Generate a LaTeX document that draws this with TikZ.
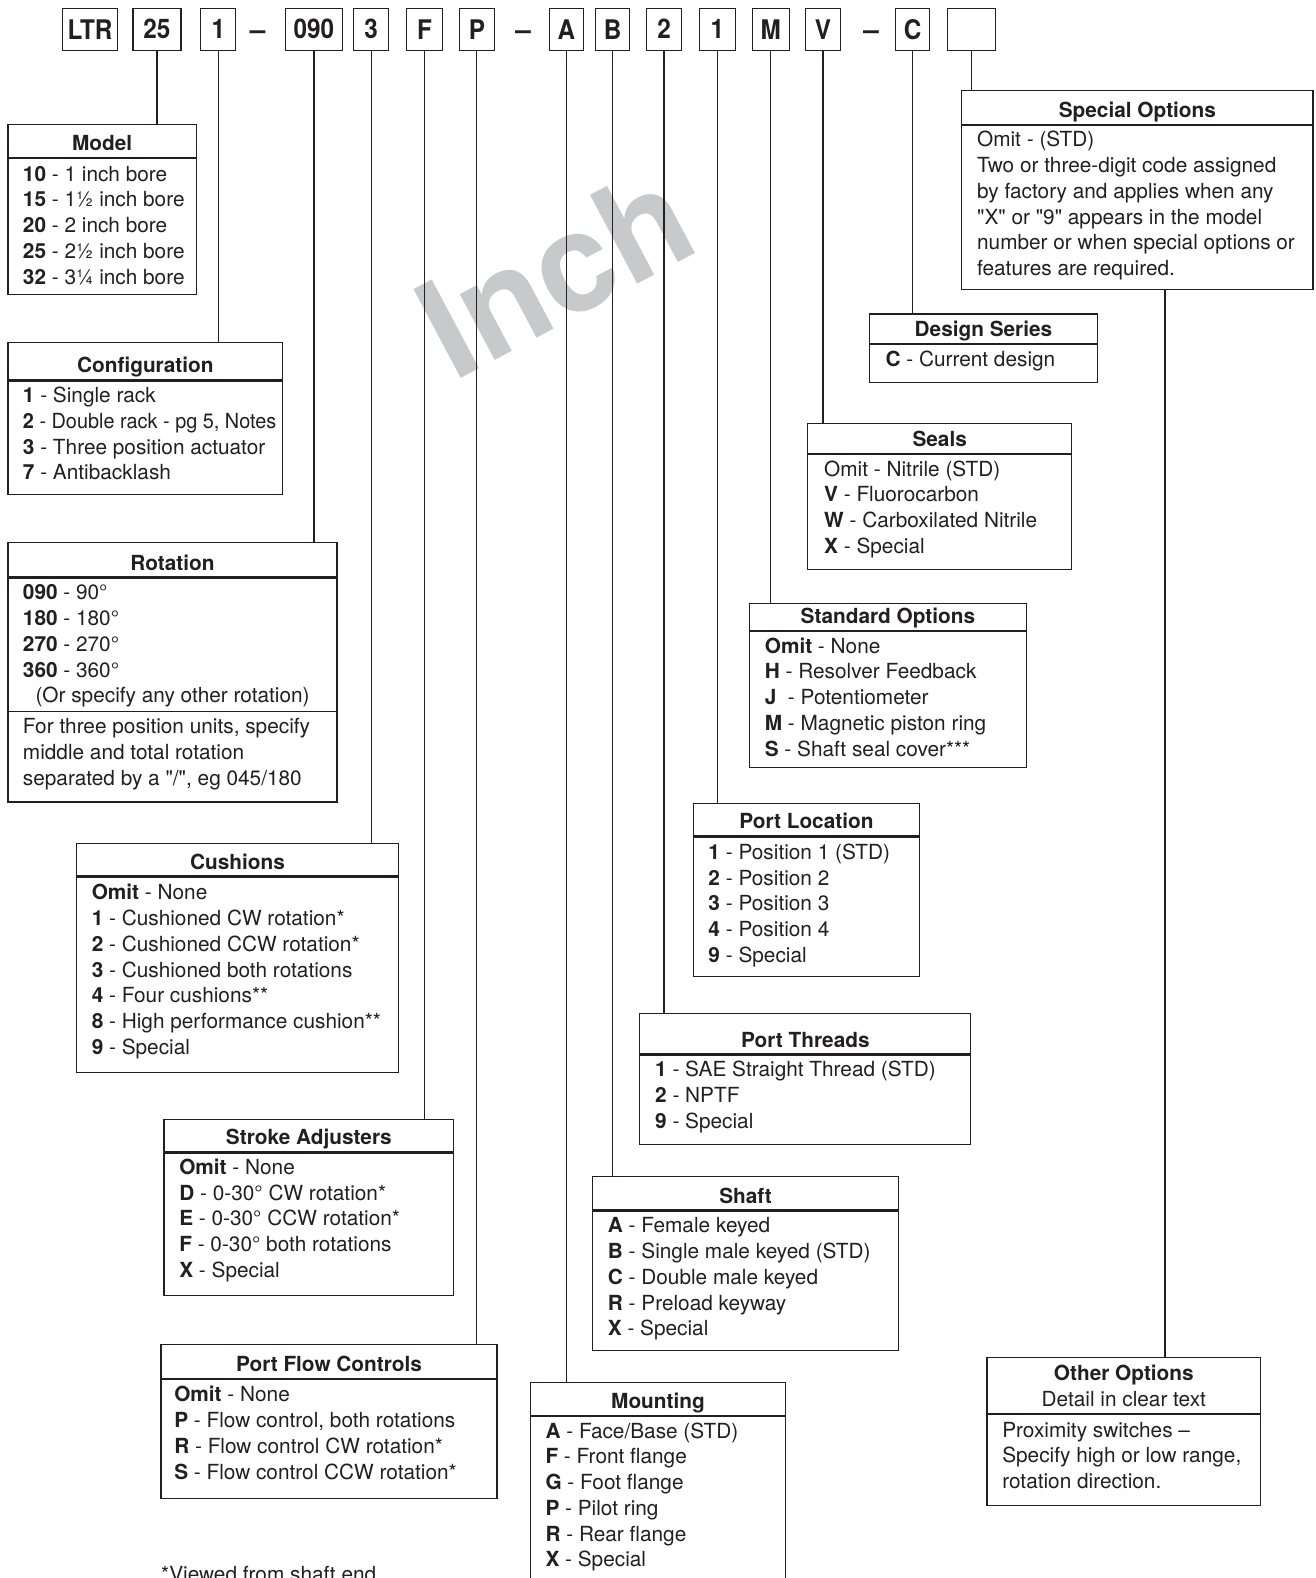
\documentclass[tikz,border=0pt]{standalone}
\usepackage{fontspec}
\usepackage{graphicx}
\setmainfont{TeX Gyre Heros}
\newfontfamily\codefont{TeX Gyre Heros}[FakeStretch=0.9]
\usetikzlibrary{fit}
\definecolor{ink}{HTML}{231F20}
\definecolor{wmgray}{HTML}{C8C9CB}
\tikzset{
  boxframe/.style={draw=ink, line width=1.2pt, inner sep=0pt, rectangle},
  hdrline/.style={draw=ink, line width=2.4pt},
  sepline/.style={draw=ink, line width=1.1pt},
  conn/.style={draw=ink, line width=1.2pt},
  txt/.style={anchor=base west, inner sep=0pt, text=ink, font=\fontsize{20.8}{24}\selectfont},
  ttl/.style={anchor=base, inner sep=0pt, text=ink, font=\fontsize{20.8}{24}\selectfont\bfseries},
  codebox/.style={draw=ink, line width=1.2pt, inner sep=0pt, minimum height=42pt, text=ink, font=\codefont\fontsize{27}{27}\selectfont\bfseries},
  codedash/.style={anchor=base, inner sep=0pt, text=ink, font=\fontsize{28}{28}\selectfont\bfseries},
  watermark/.style={inner sep=0pt, text=wmgray, font=\fontsize{138}{138}\selectfont\bfseries}
}
\newcommand\obox[7]{%
  \node[boxframe, fit={(#2,#3) (#4,#5)}] (#1) {};
  \draw[hdrline] (#1.west |- 0,#6) -- (#1.east |- 0,#6);
  \node[ttl] (#1-title) at ({(#2+#4)/2},{#6-7.5}) {#7};
}
\newcommand\blines[4]{%
  \foreach \tx [count=\i from 0] in {#4}{%
    \node[txt] (#1-\i) at (#2,{#3+\i*25.6}) {\tx};}%
}
\begin{document}
\begin{tikzpicture}[x=1.0061pt,y=-1.0064pt]
\useasboundingbox (0,0) rectangle (1308,1568);
\clip (0,0) rectangle (1308,1568);
\fill[white] (0,0) rectangle (1308,1568);

% watermark
\node[watermark, rotate=28] (inch) at (552,270) {Inch};

% code row
\node[codebox, minimum width=55pt] (cLTR) at (89.5,29) {LTR};
\node[codebox, minimum width=48pt] (c25) at (156,29) {25};
\node[codebox, minimum width=35pt] (c1) at (217,29) {1};
\node[codedash] (d1) at (256,39) {–};
\node[codebox, minimum width=57pt] (c090) at (312,29) {090};
\node[codebox, minimum width=35pt] (c3) at (369,29) {3};
\node[codebox, minimum width=36pt] (cF) at (422,29) {F};
\node[codebox, minimum width=35pt] (cP) at (474,29) {P};
\node[codedash] (d2) at (520,39) {–};
\node[codebox, minimum width=34pt] (cA) at (563,29) {A};
\node[codebox, minimum width=34pt] (cB) at (609,29) {B};
\node[codebox, minimum width=35pt] (c2) at (660,29) {2};
\node[codebox, minimum width=36pt] (c1b) at (713,29) {1};
\node[codebox, minimum width=37pt] (cM) at (766,29) {M};
\node[codebox, minimum width=35pt] (cV) at (818,29) {V};
\node[codedash] (d3) at (866,39) {–};
\node[codebox, minimum width=34pt] (cC) at (907,29) {C};
\node[codebox, minimum width=48pt] (cX) at (966,29) {};

% Model
\obox{model}{8}{124}{195}{293}{157}{Model}
\blines{model}{22.6}{180}{\textbf{10} - 1 inch bore, \textbf{15} - 1½ inch bore, \textbf{20} - 2 inch bore, \textbf{25} - 2½ inch bore, \textbf{32} - 3¼ inch bore}

% Configuration
\obox{config}{8}{340}{281}{491}{378}{Configuration}
\blines{config}{22.6}{400}{\textbf{1} - Single rack, {\scalebox{0.955}[1]{\textbf{2} - Double rack - pg 5, Notes}}, \textbf{3} - Three position actuator, \textbf{7} - Antibacklash}

% Rotation
\obox{rot}{8}{539}{335}{797}{574}{Rotation}
\blines{rot}{22.6}{596}{\textbf{090} - 90°, \textbf{180} - 180°, \textbf{270} - 270°, \textbf{360} - 360°}
\node[ttl, font=\fontsize{20.8}{24}\selectfont] (rot-or) at (171.5,698.5) {(Or specify any other rotation)};
\draw[sepline] (rot.west |- 0,707) -- (rot.east |- 0,707);
\blines{rotnote}{22.6}{729}{{For three position units, specify}, middle and total rotation, {separated by a \textquotedbl/\textquotedbl, eg 045/180}}

% Cushions
\obox{cush}{76}{838}{396}{1066}{871}{Cushions}
\blines{cush}{91}{894}{\textbf{Omit} - None, \textbf{1} - Cushioned CW rotation*, \textbf{2} - Cushioned CCW rotation*, \textbf{3} - Cushioned both rotations, \textbf{4} - Four cushions**, \textbf{8} - High performance cushion**, \textbf{9} - Special}

% Stroke Adjusters
\obox{stroke}{163}{1112}{451}{1287}{1145}{Stroke Adjusters}
\blines{stroke}{178}{1167}{\textbf{Omit} - None, \textbf{D} - 0-30° CW rotation*, \textbf{E} - 0-30° CCW rotation*, \textbf{F} - 0-30° both rotations, \textbf{X} - Special}

% Port Flow Controls
\obox{pfc}{160}{1336}{494}{1489}{1370}{Port Flow Controls}
\blines{pfc}{173}{1393}{\textbf{Omit} - None, {\textbf{P} - Flow control, both rotations}, \textbf{R} - Flow control CW rotation*, \textbf{S} - Flow control CCW rotation*}

% Mounting
\obox{mount}{527}{1374}{781}{1600}{1407}{Mounting}
\blines{mount}{542}{1429}{\textbf{A} - Face/Base (STD), \textbf{F} - Front flange, \textbf{G} - Foot flange, \textbf{P} - Pilot ring, \textbf{R} - Rear flange, \textbf{X} - Special}

% Shaft
\obox{shaft}{589}{1169}{893}{1342}{1203}{Shaft}
\blines{shaft}{604}{1225}{\textbf{A} - Female keyed, \textbf{B} - Single male keyed (STD), \textbf{C} - Double male keyed, \textbf{R} - Preload keyway, \textbf{X} - Special}

% Port Threads
\obox{pthr}{636}{1007}{965}{1137}{1048}{Port Threads}
\blines{pthr}{651}{1070}{\textbf{1} - SAE Straight Thread (STD), \textbf{2} - NPTF, \textbf{9} - Special}

% Port Location
\obox{ploc}{689}{798}{914}{970}{831}{Port Location}
\blines{ploc}{704}{854}{\textbf{1} - Position 1 (STD), \textbf{2} - Position 2, \textbf{3} - Position 3, \textbf{4} - Position 4, \textbf{9} - Special}

% Standard Options
\obox{stdo}{745}{600}{1020}{763}{627}{Standard Options}
\blines{stdo}{760}{649}{\textbf{Omit} - None, \textbf{H} - Resolver Feedback, \textbf{J}\ \ - Potentiometer, \textbf{M} - Magnetic piston ring, \textbf{S} - Shaft seal cover***}

% Seals
\obox{seals}{803}{421}{1065}{566}{451}{Seals}
\blines{seals}{819}{473}{Omit - Nitrile (STD), \textbf{V} - Fluorocarbon, \textbf{W} - Carboxilated Nitrile, \textbf{X} - Special}

% Design Series
\obox{design}{864}{312}{1091}{380}{342}{Design Series}
\blines{design}{880}{364}{\textbf{C} - Current design}

% Special Options
\obox{spec}{956}{90}{1305}{288}{124}{Special Options}
\blines{spec}{971}{146}{Omit - (STD), Two or three-digit code assigned, by factory and applies when any, \textquotedbl X\textquotedbl\ or \textquotedbl 9\textquotedbl\ appears in the model, number or when special options or, features are required.}

% Other Options
\node[boxframe, fit={(981,1349) (1253,1496)}] (other) {};
\draw[hdrline] (other.west |- 0,1405) -- (other.east |- 0,1405);
\node[ttl] (other-title) at (1117,1372) {Other Options};
\node[ttl, font=\fontsize{20.8}{24}\selectfont] (other-sub) at (1117,1397.5) {Detail in clear text};
\blines{other}{996}{1428}{Proximity switches –, {Specify high or low range,}, rotation direction.}

% footnote
\node[txt] (foot) at (160,1571) {*Viewed from shaft end};

% connectors
\draw[conn] (c25.south) -- (c25.south |- model.north);
\draw[conn] (c1.south) -- (c1.south |- config.north);
\draw[conn] (c090.south) -- (c090.south |- rot.north);
\draw[conn] (c3.south) -- (c3.south |- cush.north);
\draw[conn] (cF.south) -- (cF.south |- stroke.north);
\draw[conn] (cP.south) -- (cP.south |- pfc.north);
\draw[conn] (cA.south) -- (cA.south |- mount.north);
\draw[conn] (cB.south) -- (cB.south |- shaft.north);
\draw[conn] (c2.south) -- (c2.south |- pthr.north);
\draw[conn] (c1b.south) -- (c1b.south |- ploc.north);
\draw[conn] (cM.south) -- (cM.south |- stdo.north);
\draw[conn] (cV.south) -- (cV.south |- seals.north);
\draw[conn] (cC.south) -- (cC.south |- design.north);
\draw[conn] (cX.south) -- (cX.south |- spec.north);
\draw[conn] (spec.south -| 1158,0) -- (other.north -| 1158,0);
\end{tikzpicture}
\end{document}
